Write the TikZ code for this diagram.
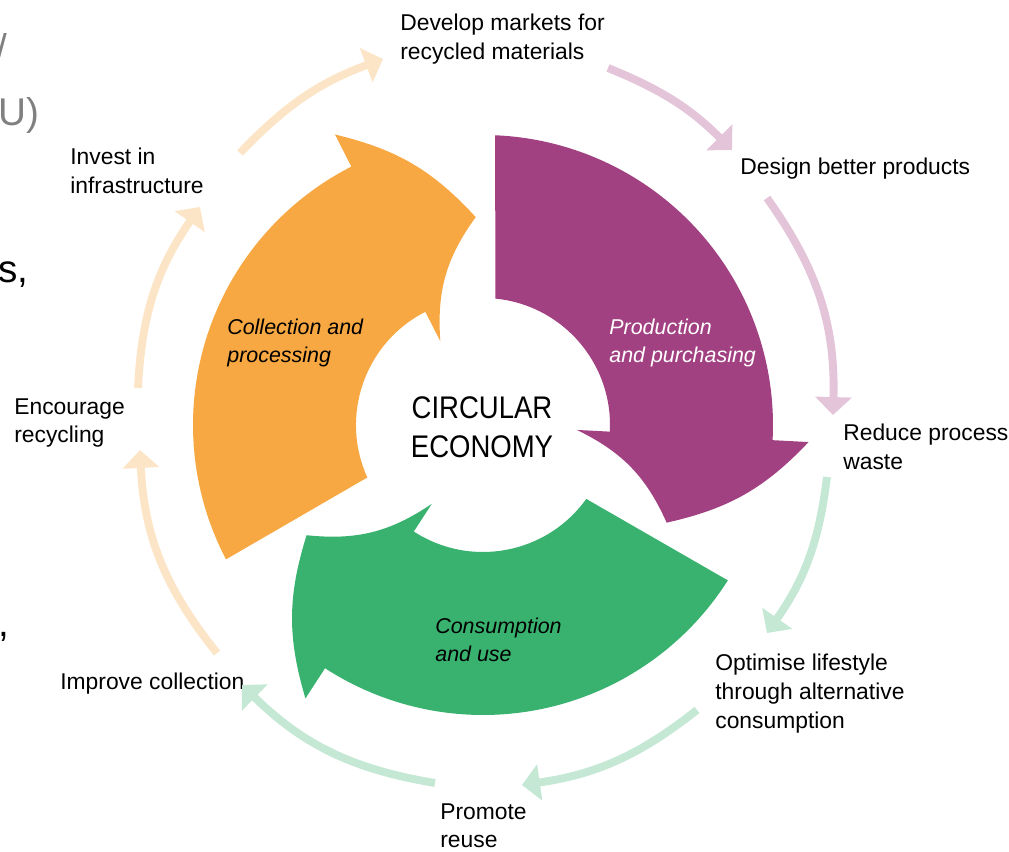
\documentclass[tikz,border=0pt]{standalone}
\usepackage{fontspec}
\setmainfont{Liberation Sans}
\newfontfamily\hubfont{Liberation Sans}[FakeStretch=0.88]
\usetikzlibrary{arrows.meta}
\definecolor{prodpurple}{RGB}{162,65,130}
\definecolor{collorange}{RGB}{247,168,67}
\definecolor{consgreen}{RGB}{57,178,111}
\definecolor{palepurple}{RGB}{227,196,217}
\definecolor{paleorange}{RGB}{252,228,199}
\definecolor{palegreen}{RGB}{197,232,213}
\definecolor{slidegray}{RGB}{128,128,128}

\begin{document}
\begin{tikzpicture}[x=0.02cm,y=0.02cm,
  lbl/.style={anchor=north west,inner sep=0pt,align=left,font=\fontsize{13pt}{16.4pt}\selectfont},
  stage/.style={anchor=north west,inner sep=0pt,align=left,font=\fontsize{12.2pt}{15.9pt}\selectfont\itshape},
  slide/.style={anchor=base west,inner sep=0pt,font=\fontsize{22pt}{26pt}\selectfont},
  ring/.style={line width=4.5pt,-{Triangle[width=20.4pt,length=10.2pt]}}]
\useasboundingbox (-483,-427) rectangle (526,425);

% three big stage arrows, same outline turned by 120 degrees
\foreach \turn/\tone in {0/prodpurple,120/collorange,240/consgreen}
  \fill[\tone,rotate=\turn] (87.6:290) arc[start angle=87.6,end angle=-3,radius=290]
    -- (-3:326) to[bend left=17] (-28:208) to[bend right=20] (-3:94)
    -- (-3:127) arc[start angle=-3,end angle=84.4,radius=127] -- cycle;

\node[align=center,inner sep=0pt,font=\hubfont\fontsize{17.8pt}{22pt}\selectfont] (hub) at (-1,-2) {CIRCULAR\\ECONOMY};

\node[stage] (collect) at (-256,106) {Collection and\\processing};
\node[stage,white] (produce) at (126,106) {Production\\and purchasing};
\node[stage] (consume) at (-48,-193) {Consumption\\and use};

% actions round the outside
\node[lbl] (markets) at (-83,411) {Develop markets for\\recycled materials};
\node[lbl] (design) at (257,267) {Design better products};
\node[lbl] (waste) at (360,1) {Reduce process\\waste};
\node[lbl] (lifestyle) at (232,-229) {Optimise lifestyle\\through alternative\\consumption};
\node[lbl] (reuse) at (-43,-378) {Promote\\reuse};
\node[lbl] (improve) at (-423,-248) {Improve collection};
\node[lbl] (recycle) at (-469,27) {Encourage\\recycling};
\node[lbl] (invest) at (-413,277) {Invest in\\infrastructure};

% pale ring arrows between the actions
\coordinate (r1a) at (-243,272); \coordinate (r1b) at (-100,366);
\coordinate (r2a) at (125,357);  \coordinate (r2b) at (249,275);
\coordinate (r3a) at (284,227);  \coordinate (r3b) at (350,10);
\coordinate (r4a) at (344,-52);  \coordinate (r4b) at (284,-208);
\coordinate (r5a) at (214,-285); \coordinate (r5b) at (39,-360);
\coordinate (r6a) at (-48,-358); \coordinate (r6b) at (-241,-260);
\coordinate (r7a) at (-266,-228);\coordinate (r7b) at (-343,-25);
\coordinate (r8a) at (-345,37);  \coordinate (r8b) at (-283,218);
\draw[ring,paleorange] (r1a) to[bend left=13] (r1b);
\draw[ring,palepurple] (r2a) to[bend left=11.5] (r2b);
\draw[ring,palepurple] (r3a) to[bend left=18.5] (r3b);
\draw[ring,palegreen] (r4a) to[bend left=14] (r4b);
\draw[ring,palegreen] (r5a) to[bend left=15] (r5b);
\draw[ring,palegreen] (r6a) to[bend left=17.5] (r6b);
\draw[ring,paleorange] (r7a) to[bend left=18] (r7b);
\draw[ring,paleorange] (r8a) to[bend left=16] (r8b);

% leftovers of the slide text at the left edge
\node[slide,slidegray] (slash) at (-487,363) {/};
\node[slide,slidegray] (paren) at (-485,299) {U)};
\node[slide] (plural) at (-485,142) {s,};
\node[slide] (comma) at (-485,-212) {,};
\end{tikzpicture}
\end{document}
